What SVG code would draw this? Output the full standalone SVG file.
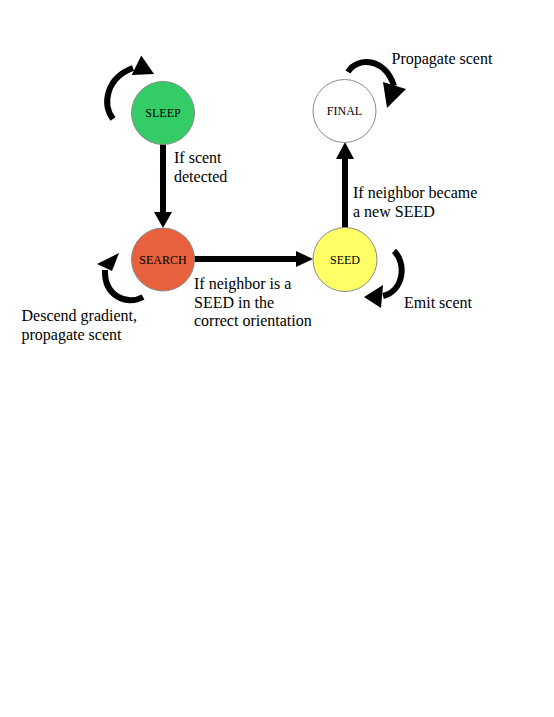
<svg xmlns="http://www.w3.org/2000/svg" width="554" height="717" viewBox="0 0 554 717">
<style>
.node{stroke:#8a8a8a;stroke-width:1}
.nl{font-family:"Liberation Serif","Times New Roman",serif;font-size:12px;fill:#000;text-anchor:middle}
.lbl{font-family:"Liberation Serif","Times New Roman",serif;font-size:16px;fill:#000}
.line{stroke:#000;stroke-width:6;fill:none}
.head{fill:#000}
</style>
<rect width="554" height="717" fill="#fff"/>
<g id="connectors">
  <path class="line" d="M163,144 V214"/>
  <polygon class="head" points="154,212 172,212 163,228"/>
  <path class="line" d="M194,259 H298"/>
  <polygon class="head" points="296,251 296,267 313,259"/>
  <path class="line" d="M345,228 V157"/>
  <polygon class="head" points="336,159 354,159 345,142"/>
  <path class="line" d="M113,119 C102,104 106,78 133,68"/>
  <polygon class="head" points="131.7,75 141.3,55.6 154,74"/>
  <path class="line" d="M348,72 C357,57 385,57 394,86"/>
  <polygon class="head" points="383,82 406,89 387,108"/>
  <path class="line" d="M143,297 C127,306 104,296 105,270"/>
  <polygon class="head" points="97,264 112,271 119,253"/>
  <path class="line" d="M394,251 C406,262 405,290 383,296"/>
  <polygon class="head" points="383,285 381,308 364,297"/>
</g>
<g id="sleep">
  <circle class="node" cx="163" cy="113" r="31.5" fill="#33cc66"/>
  <text class="nl" x="163" y="117">SLEEP</text>
</g>
<g id="search">
  <circle class="node" cx="163" cy="259.5" r="31.5" fill="#e8603c"/>
  <text class="nl" x="163" y="263.5">SEARCH</text>
</g>
<g id="seed">
  <circle class="node" cx="345" cy="259.5" r="32" fill="#ffff66"/>
  <text class="nl" x="345" y="263.5">SEED</text>
</g>
<g id="final">
  <circle class="node" cx="344.5" cy="111" r="31.5" fill="#fff"/>
  <text class="nl" x="344.5" y="115">FINAL</text>
</g>
<g id="labels">
  <text class="lbl" x="174" y="162.7">If scent</text>
  <text class="lbl" x="174" y="182.3">detected</text>
  <text class="lbl" x="353" y="198.3">If neighbor became</text>
  <text class="lbl" x="353" y="216.5">a new SEED</text>
  <text class="lbl" x="391.5" y="64">Propagate scent</text>
  <text class="lbl" x="194" y="289">If neighbor is a</text>
  <text class="lbl" x="194" y="307.5">SEED in the</text>
  <text class="lbl" x="194" y="326">correct orientation</text>
  <text class="lbl" x="21.5" y="321">Descend gradient,</text>
  <text class="lbl" x="21.5" y="339.5">propagate scent</text>
  <text class="lbl" x="404" y="308">Emit scent</text>
</g>
</svg>
